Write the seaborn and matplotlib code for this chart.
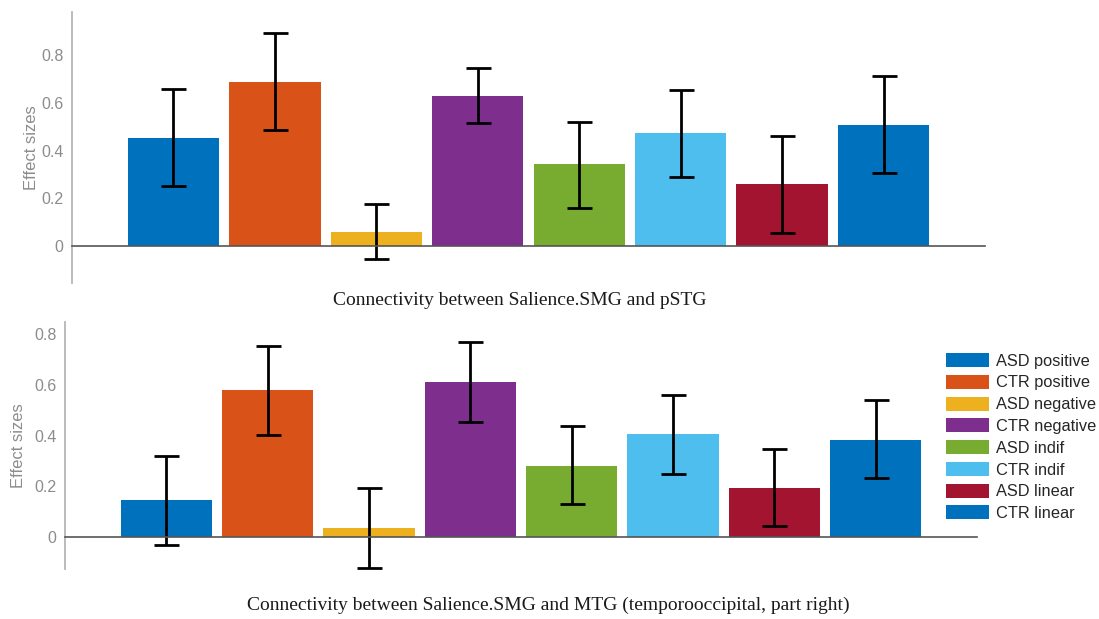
import matplotlib
matplotlib.use("Agg")
import matplotlib.pyplot as plt
import seaborn as sns
import pandas as pd
import numpy as np
from matplotlib.patches import Patch

# ---- data ----
categories = ["ASD positive", "CTR positive", "ASD negative", "CTR negative",
              "ASD indif", "CTR indif", "ASD linear", "CTR linear"]
colors = ["#0072BD", "#D95319", "#EDB120", "#7E2F8E",
          "#77AC30", "#4DBEEE", "#A2142F", "#0072BD"]

top_values = [0.452, 0.687, 0.059, 0.628, 0.343, 0.473, 0.260, 0.507]
top_upper = [0.658, 0.892, 0.176, 0.746, 0.520, 0.653, 0.460, 0.712]
top_lower = [0.251, 0.486, -0.054, 0.515, 0.160, 0.290, 0.054, 0.306]

bot_values = [0.146, 0.578, 0.034, 0.611, 0.281, 0.405, 0.194, 0.383]
bot_upper = [0.319, 0.755, 0.192, 0.768, 0.439, 0.560, 0.348, 0.540]
bot_lower = [-0.030, 0.402, -0.121, 0.454, 0.129, 0.247, 0.042, 0.234]

ytick_values = [0, 0.2, 0.4, 0.6, 0.8]
ytick_labels = ["0", "0.2", "0.4", "0.6", "0.8"]

top_title = "Connectivity between Salience.SMG and pSTG"
bot_title = "Connectivity between Salience.SMG and MTG (temporooccipital, part right)"
ylabel = "Effect sizes"

sns.set_style("white")
plt.rcParams["font.family"] = ["Liberation Sans", "DejaVu Sans"]

fig = plt.figure(figsize=(10.99, 6.19), dpi=100)
W, H = 1099, 619

def make_axes(l, r, t, b):
    return fig.add_axes([l / W, 1 - b / H, (r - l) / W, (b - t) / H])

ax_top = make_axes(72, 985, 12, 283)
ax_bot = make_axes(65, 977, 322, 569)

def draw(ax, values, upper, lower, ylim):
    df = pd.DataFrame({"cat": categories, "val": values})
    sns.barplot(data=df, x="cat", y="val", hue="cat", order=categories,
                hue_order=categories, palette=colors, dodge=False,
                width=0.9, legend=False, ax=ax, saturation=1,
                edgecolor="none", linewidth=0)
    x = np.arange(len(categories))
    v = np.array(values)
    yerr = np.vstack([v - np.array(lower), np.array(upper) - v])
    ax.errorbar(x, v, yerr=yerr, fmt="none", ecolor="black",
                elinewidth=2.0, capsize=9, capthick=2.0, zorder=5)
    ax.set_xlim(-1, 8)
    ax.set_ylim(*ylim)
    ax.set_xticks([])
    ax.set_xlabel("")
    ax.set_yticks(ytick_values)
    ax.set_yticklabels(ytick_labels)
    ax.set_ylabel(ylabel, color="#8c8c8c", fontsize=12)
    for s in ["top", "right"]:
        ax.spines[s].set_visible(False)
    ax.spines["left"].set_color("#b5b5b5")
    ax.spines["left"].set_linewidth(1.3)
    ax.spines["bottom"].set_position(("data", 0))
    ax.spines["bottom"].set_color("#555555")
    ax.spines["bottom"].set_linewidth(1.2)
    ax.spines["bottom"].set_zorder(6)
    ax.tick_params(axis="y", direction="in", length=4, width=1,
                   color="#8c8c8c", labelcolor="#8c8c8c", labelsize=11.5, pad=6)
    ax.patch.set_alpha(0)

draw(ax_top, top_values, top_upper, top_lower, (-0.155, 0.982))
draw(ax_bot, bot_values, bot_upper, bot_lower, (-0.126, 0.848))
ax_top.yaxis.set_label_coords(-0.036, 0.5)
ax_bot.yaxis.set_label_coords(-0.043, 0.5)

serif = ["Liberation Serif", "DejaVu Serif"]
fig.text(520 / W, 1 - 300 / H, top_title, ha="center", va="center",
         fontsize=14, family=serif, color="#1a1a1a")
fig.text(548 / W, 1 - 605 / H, bot_title, ha="center", va="center",
         fontsize=14, family=serif, color="#1a1a1a")

handles = [Patch(facecolor=c, edgecolor="none") for c in colors]
fig.legend(handles, categories, loc="upper left",
           bbox_to_anchor=(946 / W, 1 - 353 / H), frameon=False,
           fontsize=11.8, handlelength=2.65, handleheight=0.95,
           labelspacing=0.37, handletextpad=0.4, borderpad=0,
           borderaxespad=0, labelcolor="#262626")

fig.savefig("out.png", dpi=100)
